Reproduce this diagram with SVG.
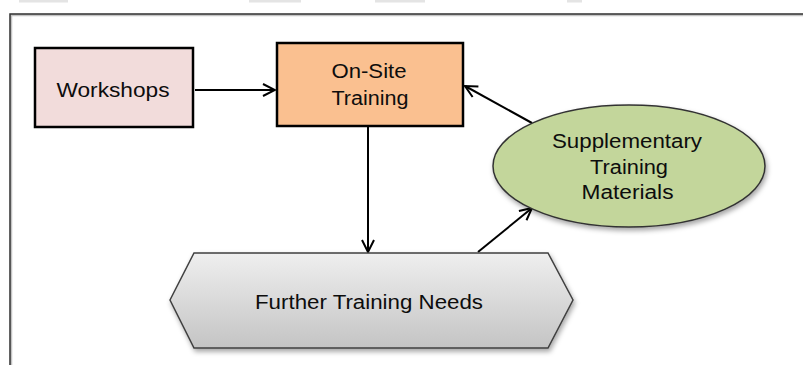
<svg xmlns="http://www.w3.org/2000/svg" width="803" height="365" viewBox="0 0 803 365">
<defs>
<style>
.lbl{font-family:"Liberation Sans",Arial,sans-serif;font-size:20px;fill:#0d0d0d;text-anchor:middle}
.box{stroke:#000;stroke-width:2.5}
.conn{stroke:#000;stroke-width:2;fill:none;marker-end:url(#arr)}
</style>
<marker id="arr" viewBox="0 0 14 14" refX="13" refY="7" markerWidth="14" markerHeight="14" markerUnits="userSpaceOnUse" orient="auto">
<path d="M1,1 L13,7 L1,13" fill="none" stroke="#000" stroke-width="2"/>
</marker>
<linearGradient id="hexg" x1="0" y1="0" x2="0" y2="1">
<stop offset="0" stop-color="#efefef"/>
<stop offset="1" stop-color="#c4c4c4"/>
</linearGradient>
<filter id="sh" x="-10%" y="-10%" width="125%" height="135%">
<feDropShadow dx="1.5" dy="3" stdDeviation="2.5" flood-color="#000" flood-opacity="0.35"/>
</filter>
</defs>
<rect width="803" height="365" fill="#fff"/>
<g id="topbits" fill="#e4e4e4">
<rect x="19" y="0" width="49" height="2.5"/>
<rect x="249" y="0" width="52" height="2.5"/>
<rect x="375" y="0" width="50" height="2.5"/>
<rect x="567" y="0" width="15" height="2.5"/>
</g>
<g id="frame">
<path d="M10,366 V14 H803" fill="none" stroke="#c4c4c4" stroke-width="2.5" transform="translate(1,1)"/>
<path d="M10,366 V14 H803" fill="none" stroke="#333" stroke-width="1.5"/>
</g>
<g id="connectors">
<line class="conn" x1="195" y1="90" x2="275" y2="90"/>
<line class="conn" x1="368" y1="127" x2="368" y2="252"/>
<line class="conn" x1="478" y1="252" x2="532" y2="208"/>
<line class="conn" x1="532" y1="123" x2="465" y2="86"/>
</g>
<g id="workshops">
<rect class="box" x="35" y="48" width="158" height="79" fill="#f2dcdb"/>
<text class="lbl" x="113" y="97" textLength="113" lengthAdjust="spacingAndGlyphs">Workshops</text>
</g>
<g id="onsite">
<rect class="box" x="277" y="43" width="186" height="83" fill="#fac090"/>
<text class="lbl" x="369" y="78" textLength="75" lengthAdjust="spacingAndGlyphs">On-Site</text>
<text class="lbl" x="370" y="105" textLength="77" lengthAdjust="spacingAndGlyphs">Training</text>
</g>
<g id="supplementary">
<ellipse cx="629" cy="166" rx="136" ry="61" fill="#c3d69b" stroke="#333" stroke-width="1.5" filter="url(#sh)"/>
<text class="lbl" x="627" y="148" textLength="150" lengthAdjust="spacingAndGlyphs">Supplementary</text>
<text class="lbl" x="629" y="174" textLength="78" lengthAdjust="spacingAndGlyphs">Training</text>
<text class="lbl" x="627.5" y="199" textLength="92" lengthAdjust="spacingAndGlyphs">Materials</text>
</g>
<g id="further">
<polygon points="170,300 194,253 548,253 573,300 548,348 194,348" fill="url(#hexg)" stroke="#404040" stroke-width="1.5" filter="url(#sh)"/>
<text class="lbl" x="369" y="309" textLength="228" lengthAdjust="spacingAndGlyphs">Further Training Needs</text>
</g>
</svg>
